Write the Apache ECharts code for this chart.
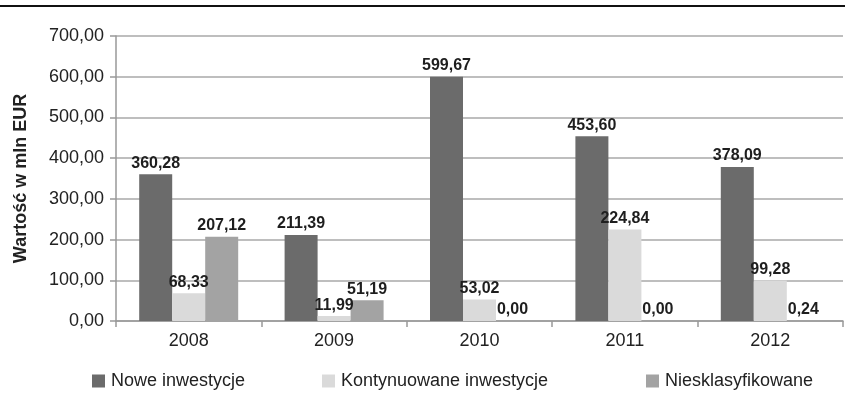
<!DOCTYPE html>
<html>
<head>
<meta charset="utf-8">
<script src="https://cdn.jsdelivr.net/npm/echarts@6/dist/echarts.min.js"></script>
<style>
html,body{margin:0;padding:0;background:#fff;}
#c{width:845px;height:409px;}
</style>
</head>
<body>
<div id="c"></div>
<script>
var categories = ['2008', '2009', '2010', '2011', '2012'];
var seriesNames = ['Nowe inwestycje', 'Kontynuowane inwestycje', 'Niesklasyfikowane'];
var nowe = [360.28, 211.39, 599.67, 453.60, 378.09];
var kontynuowane = [68.33, 11.99, 53.02, 224.84, 99.28];
var niesklasyfikowane = [207.12, 51.19, 0.00, 0.00, 0.24];
var yTicks = [0, 100, 200, 300, 400, 500, 600, 700];
var colors = ['#6b6b6b', '#dadada', '#a3a3a3'];

var FONT = '"Liberation Sans", Arial, Helvetica, sans-serif';
function fmt(v) { return Number(v).toFixed(2).replace('.', ','); }

var chart = echarts.init(document.getElementById('c'), null, {renderer: 'canvas'});

function mkSeries(name, data, color) {
  return {
    name: name,
    type: 'bar',
    data: data,
    barWidth: 33,
    barGap: '0%',
    itemStyle: {color: color},
    label: {
      show: true,
      position: 'top',
      distance: 3,
      formatter: function (p) { return fmt(p.value); },
      fontFamily: FONT,
      fontWeight: 'bold',
      fontSize: 16,
      color: '#1e1e1e'
    },
    emphasis: {disabled: true}
  };
}

function mkLegend(name, left) {
  return {
    data: [name],
    left: left,
    top: 372,
    itemWidth: 13,
    itemHeight: 13,
    itemGap: 6,
    icon: 'rect',
    textStyle: {fontFamily: FONT, fontSize: 18, color: '#222', padding: [0, 0, 0, 1]},
    selectedMode: false,
    padding: 0
  };
}

chart.setOption({
  animation: false,
  color: colors,
  graphic: [{
    type: 'rect',
    shape: {x: 0, y: 5, width: 845, height: 2},
    style: {fill: '#111'}
  }],
  legend: [
    mkLegend(seriesNames[0], 92),
    mkLegend(seriesNames[1], 322),
    mkLegend(seriesNames[2], 646)
  ],
  grid: {left: 116, right: 2, top: 36, bottom: 88, containLabel: false},
  xAxis: {
    type: 'category',
    data: categories,
    axisLine: {show: true, lineStyle: {color: '#999', width: 1.5}},
    axisTick: {show: true, alignWithLabel: false, length: 6, lineStyle: {color: '#999', width: 1.5}},
    axisLabel: {fontFamily: FONT, fontSize: 18, color: '#222', margin: 11}
  },
  yAxis: {
    type: 'value',
    min: yTicks[0],
    max: yTicks[yTicks.length - 1],
    interval: yTicks[1] - yTicks[0],
    name: 'Wartość w mln EUR',
    nameLocation: 'middle',
    nameGap: 86,
    nameTextStyle: {fontFamily: FONT, fontSize: 18, fontWeight: 'bold', color: '#222'},
    axisLine: {show: true, lineStyle: {color: '#999', width: 1.5}},
    axisTick: {show: true, length: 6, lineStyle: {color: '#999', width: 1.5}},
    axisLabel: {fontFamily: FONT, fontSize: 18, color: '#222', margin: 12, formatter: function (v) { return fmt(v); }},
    splitLine: {show: true, lineStyle: {color: '#a8a8a8', width: 1.5}}
  },
  series: [
    mkSeries(seriesNames[0], nowe, colors[0]),
    mkSeries(seriesNames[1], kontynuowane, colors[1]),
    mkSeries(seriesNames[2], niesklasyfikowane, colors[2])
  ]
});
</script>
</body>
</html>
